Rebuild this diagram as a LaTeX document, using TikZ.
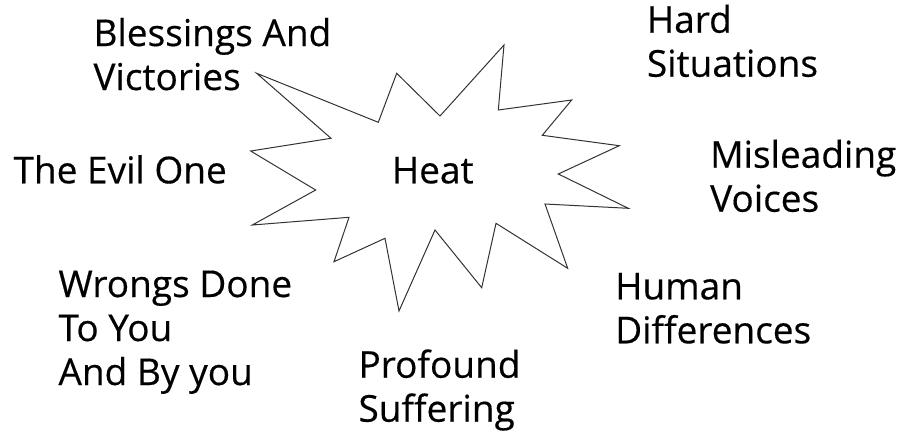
\documentclass[tikz,border=0pt]{standalone}
\usepackage{fontspec}
\setmainfont{Open Sans}[FakeBold=0.4]
\begin{document}
\begin{tikzpicture}[x=1pt,y=-1pt,
  lbl/.style={anchor=base west,align=left,inner sep=0pt,font=\fontsize{37}{44}\selectfont},
  burst/.style={draw=black!80,line width=1pt,line join=miter}]
\useasboundingbox (0,0) rectangle (903,432);
\draw[burst] (256.7,73.3) -- (378.3,122.3) -- (396.7,73.3) -- (440,116) -- (504,45) -- (498.3,110) -- (571.7,100) -- (542.3,135.3) -- (619.3,145.7) -- (558.3,174) -- (628.3,208.3) -- (545,204) -- (567.7,268.3) -- (496,223.3) -- (481.7,287.7) -- (435,230) -- (399,311) -- (385,238.3) -- (334,261.7) -- (349,217.3) -- (252.3,225) -- (315.7,190) -- (250.7,151) -- (331,138.3) -- cycle;
\node[lbl] (heat) at (391.7,183.3) {Heat};
\node[lbl] (bless) at (93.3,90) {Blessings And\\Victories};
\node[lbl] (hard) at (646.7,76.7) {Hard\\Situations};
\node[lbl] (evil) at (13.3,183.3) {The Evil One};
\node[lbl] (misl) at (710,211.7) {Misleading\\Voices};
\node[lbl] (wrong) at (58.3,385) {Wrongs Done\\To You\\And By you};
\node[lbl] (prof) at (358.3,421.7) {Profound\\Suffering};
\node[lbl] (human) at (615,343.3) {Human\\Differences};
\end{tikzpicture}
\end{document}
